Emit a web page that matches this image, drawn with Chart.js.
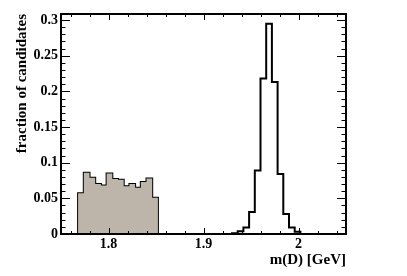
<!DOCTYPE html>
<html lang="en">
<head>
    <meta charset="UTF-8">
    <title>m(D)</title>
    <style>
        body { margin: 0; background: #fff; }
        #box { width: 407px; height: 276px; }
    </style>
</head>
<body>
    <div id="box"><canvas id="myChart" width="407" height="276"></canvas></div>

    <script src="https://cdn.jsdelivr.net/npm/chart.js"></script>
    <script>

        // bin edges, m(D) in GeV
        const binEdges = [1.750, 1.756, 1.762, 1.768, 1.774, 1.780, 1.786, 1.792, 1.798, 1.804,
                          1.810, 1.816, 1.822, 1.828, 1.834, 1.840, 1.846, 1.852, 1.858, 1.864,
                          1.870, 1.876, 1.882, 1.888, 1.894, 1.900, 1.906, 1.912, 1.918, 1.924,
                          1.930, 1.936, 1.942, 1.948, 1.954, 1.960, 1.966, 1.972, 1.978, 1.984,
                          1.990, 1.996, 2.002, 2.008, 2.014, 2.020, 2.026, 2.032, 2.038, 2.044,
                          2.050]

        // fraction of candidates per bin
        const fractions = [0, 0, 0, 0.057, 0.086, 0.079, 0.070, 0.068, 0.085, 0.077,
                           0.076, 0.067, 0.070, 0.065, 0.073, 0.078, 0.051, 0, 0, 0,
                           0, 0, 0, 0, 0, 0, 0, 0, 0, 0,
                           0.001, 0.004, 0.009, 0.031, 0.089, 0.218, 0.295, 0.213, 0.084, 0.028,
                           0.009, 0.003, 0, 0, 0, 0, 0, 0, 0, 0]

        // sideband bins shown filled
        const sidebandFirst = 3
        const sidebandLast = 16

        const xTicks = [1.8, 1.9, 2.0]
        const xTickLabels = ['1.8', '1.9', '2']
        const yTicks = [0, 0.05, 0.1, 0.15, 0.2, 0.25, 0.3]
        const yTickLabels = ['0', '0.05', '0.1', '0.15', '0.2', '0.25', '0.3']

        const outline = binEdges.map((x, i) => ({ x: x, y: i < fractions.length ? fractions[i] : 0 }))
        const sideband = []
        for (let i = sidebandFirst; i <= sidebandLast + 1; i++) {
            sideband.push({ x: binEdges[i], y: i <= sidebandLast ? fractions[i] : 0 })
        }

        const serif = 'Liberation Serif'

        // ROOT style frame with ticks on all four sides
        const frame = {
            id: 'frame',
            afterDatasetsDraw(chart) {
                const c = chart.ctx
                const a = chart.chartArea
                const xs = chart.scales.x
                const ys = chart.scales.y
                c.save()
                c.strokeStyle = '#000'
                c.lineWidth = 1
                c.beginPath()
                for (let v = 1.76; v < 2.049; v += 0.02) {
                    const px = Math.round(xs.getPixelForValue(v)) + 0.5
                    const major = Math.abs(v * 10 - Math.round(v * 10)) < 1e-6
                    const len = major ? 6 : 3
                    c.moveTo(px, a.bottom); c.lineTo(px, a.bottom - len)
                    c.moveTo(px, a.top); c.lineTo(px, a.top + len)
                }
                for (let k = 1; k <= 30; k++) {
                    const v = k / 100
                    const py = Math.round(ys.getPixelForValue(v)) + 0.5
                    const len = k % 5 === 0 ? 9 : 4.5
                    c.moveTo(a.left, py); c.lineTo(a.left + len, py)
                    c.moveTo(a.right, py); c.lineTo(a.right - len, py)
                }
                c.stroke()
                c.lineWidth = 2
                c.strokeRect(a.left, a.top, a.right - a.left, a.bottom - a.top)
                c.restore()
            }
        }

        const ctx = document.getElementById('myChart')

        let chart = new Chart(ctx, {
            type: 'line',
            data: {
                datasets: [{
                    data: sideband,
                    stepped: true,
                    fill: 'origin',
                    backgroundColor: '#bdb4aa',
                    borderWidth: 0,
                    pointRadius: 0
                }, {
                    data: outline,
                    stepped: true,
                    fill: false,
                    borderColor: '#000',
                    borderWidth: 2,
                    pointRadius: 0
                }]
            },
            options: {
                responsive: false,
                animation: false,
                devicePixelRatio: 1,
                layout: { padding: { left: 0, right: 61, top: 14, bottom: 0 } },
                plugins: {
                    legend: { display: false },
                    tooltip: { enabled: false }
                },
                scales: {
                    x: {
                        type: 'linear',
                        min: 1.75,
                        max: 2.05,
                        grid: { display: false, drawTicks: false },
                        border: { display: false },
                        afterBuildTicks: s => { s.ticks = xTicks.map(v => ({ value: v })) },
                        afterFit: s => { s.height = 42 },
                        ticks: {
                            padding: 2,
                            color: '#000',
                            font: { family: serif, size: 14, weight: 'bold' },
                            callback: (v, i) => xTickLabels[i]
                        },
                        title: {
                            display: true,
                            text: 'm(D) [GeV]',
                            align: 'end',
                            color: '#000',
                            padding: { top: 0, bottom: 7 },
                            font: { family: serif, size: 15, weight: 'bold' }
                        }
                    },
                    y: {
                        min: 0,
                        max: 0.3085,
                        grid: { display: false, drawTicks: false },
                        border: { display: false },
                        afterBuildTicks: s => { s.ticks = yTicks.map(v => ({ value: v })) },
                        afterFit: s => { s.width = 61 },
                        ticks: {
                            padding: 3,
                            color: '#000',
                            font: { family: serif, size: 14, weight: 'bold' },
                            callback: (v, i) => yTickLabels[i]
                        },
                        title: {
                            display: true,
                            text: 'fraction of candidates',
                            align: 'end',
                            color: '#000',
                            padding: { top: 13, bottom: 0 },
                            font: { family: serif, size: 15, weight: 'bold' }
                        }
                    }
                }
            },
            plugins: [frame]
        })

    </script>
</body>
</html>
